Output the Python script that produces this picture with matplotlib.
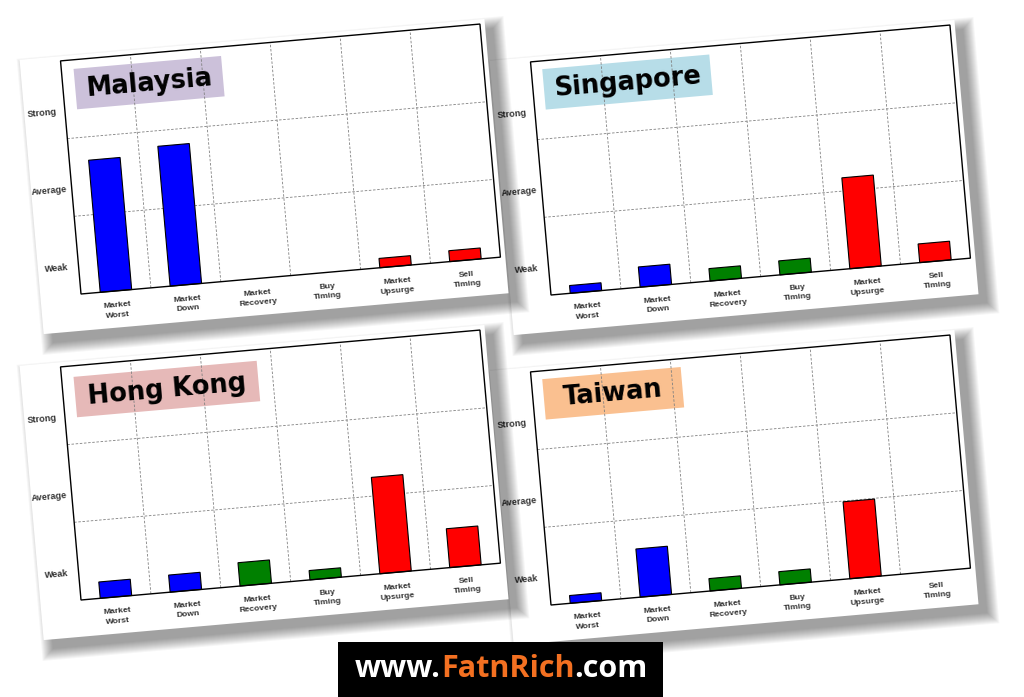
import matplotlib
matplotlib.use('Agg')
import matplotlib.pyplot as plt
from matplotlib.patches import Rectangle, Polygon
from matplotlib.transforms import Affine2D

# categories / levels
categories = ['Market\nWorst', 'Market\nDown', 'Market\nRecovery', 'Buy\nTiming', 'Market\nUpsurge', 'Sell\nTiming']
levels = ['Weak', 'Average', 'Strong']
bar_colors = ['#0000FF', '#0000FF', '#008000', '#008000', '#FF0000', '#FF0000']

# bar heights (1 = one band of the grid)
malaysia = [1.70, 1.80, 0.0, 0.0, 0.12, 0.14]
singapore = [0.10, 0.26, 0.16, 0.18, 1.17, 0.24]
hong_kong = [0.21, 0.22, 0.30, 0.12, 1.24, 0.50]
taiwan = [0.10, 0.62, 0.16, 0.17, 0.99, 0.0]

countries = ['Taiwan', 'Singapore', 'Hong Kong', 'Malaysia']
values = [taiwan, singapore, hong_kong, malaysia]
title_colors = ['#FAC090', '#B7DDE8', '#E6B9B8', '#CCC1DA']

# layout of each tilted card (bottom-left of plot box in pixels, title box width)
anchors = [(551, 92), (551, 402), (81, 97), (81, 403)]
title_w = [1.98, 2.39, 2.62, 2.11]
title_off = [(0.157, 2.894), (0.157, 2.894), (0.172, 2.858), (0.175, 2.883)]

ANG = 5.02
CW, CH = 70.17, 78.0

fig = plt.figure(figsize=(10.24, 6.97), dpi=100)
ax = fig.add_axes([0, 0, 1, 1])
ax.set_xlim(0, 1024)
ax.set_ylim(0, 697)
ax.axis('off')

for k, name in enumerate(countries):
    z = 10 * (k + 1)
    bx, by = anchors[k]
    T = Affine2D().scale(CW, CH).rotate_deg(ANG).translate(bx, by) + ax.transData

    # card + soft shadow
    x0, x1, y0, y1 = -0.58, 6.07, -0.47, 3.06
    for s in range(12):
        ex, ey = s / CW, s / CH
        sh = Polygon([(x0 - ex, y0 - ey), (x1 + ex, y0 - ey), (x1 + ex, y1 + ey), (x0 - ex, y1 + ey)],
                     closed=True, facecolor='black', edgecolor='none', alpha=0.035,
                     transform=T + Affine2D().translate(9, -9), zorder=z)
        ax.add_patch(sh)
    ax.add_patch(Polygon([(x0, y0), (x1, y0), (x1, y1), (x0, y1)], closed=True,
                         facecolor='white', edgecolor='none', transform=T, zorder=z + 1))

    # grid
    for g in range(1, 6):
        ax.plot([g, g], [0, 3], transform=T, color='#808080', lw=0.6, ls=(0, (3, 2)), zorder=z + 3)
    for g in range(1, 3):
        ax.plot([0, 6], [g, g], transform=T, color='#808080', lw=0.6, ls=(0, (3, 2)), zorder=z + 3)

    # title box
    tx, ty = title_off[k]
    ax.add_patch(Rectangle((tx, ty - 0.52), title_w[k], 0.52, facecolor=title_colors[k],
                           edgecolor='none', transform=T, zorder=z + 2))
    ax.text(tx + title_w[k] / 2, ty - 0.27, name, transform=T, rotation=ANG, rotation_mode='anchor',
            ha='center', va='center', fontsize=18.5, fontweight='bold', family='DejaVu Sans',
            color='black', zorder=z + 6)

    # bars
    xs = [i + 0.5 for i in range(len(categories))]
    lws = [0.8 if v > 0 else 0 for v in values[k]]
    ax.bar(xs, values[k], width=0.45, bottom=0, color=bar_colors, edgecolor='black', linewidth=lws,
           transform=T, zorder=z + 4)

    # plot box
    ax.add_patch(Rectangle((0, 0), 6, 3, fill=False, edgecolor='black', lw=1.0, transform=T, zorder=z + 5))

    # tick labels
    for i, lab in enumerate(levels):
        ax.text(-0.32, i + 0.35, lab, transform=T, rotation=ANG, rotation_mode='anchor',
                ha='center', va='center', fontsize=6.6, fontweight='bold', family='Liberation Sans',
                color='#333333', zorder=z + 6)
    for i, lab in enumerate(categories):
        ax.text(i + 0.5, -0.25, lab, transform=T, rotation=ANG, rotation_mode='anchor',
                ha='center', va='center', fontsize=6.1, fontweight='bold', family='Liberation Sans',
                color='#333333', linespacing=1.5, multialignment='center', zorder=z + 6)

# watermark
ax.add_patch(Rectangle((338, 0), 325, 55, facecolor='black', edgecolor='none', zorder=100))
t1 = ax.text(355, 13, 'www.', color='white', fontsize=22, fontweight='bold', family='Open Sans',
             ha='left', va='bottom', zorder=101)
t2 = ax.annotate('FatnRich', xy=(1, 0), xycoords=t1, ha='left', va='bottom', color='#F37021',
                 fontsize=22, fontweight='bold', family='Open Sans', zorder=101)
ax.annotate('.com', xy=(1, 0), xycoords=t2, ha='left', va='bottom', color='white',
            fontsize=22, fontweight='bold', family='Open Sans', zorder=101)

fig.savefig('out.png', dpi=100, facecolor='white')
